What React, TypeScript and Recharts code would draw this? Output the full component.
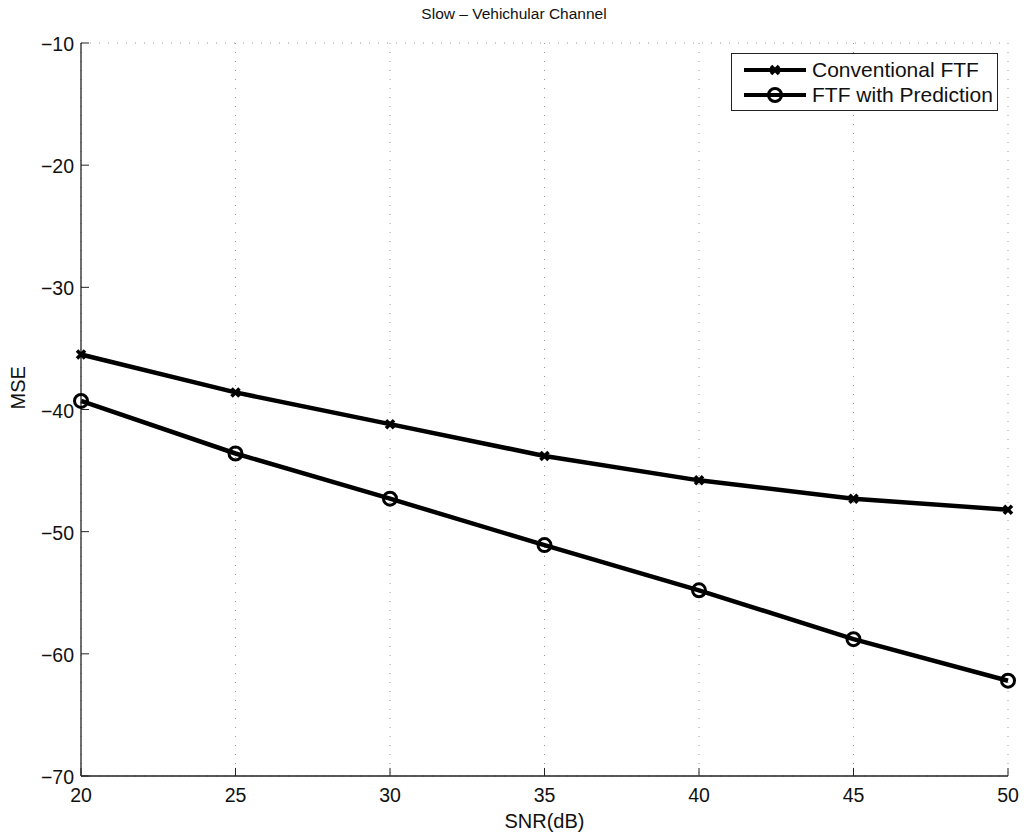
import React from "react";
import {
  CartesianGrid,
  Line,
  LineChart,
  XAxis,
  YAxis
} from "recharts";

const snr = [20, 25, 30, 35, 40, 45, 50];
const conventional = [-35.5, -38.6, -41.2, -43.8, -45.8, -47.3, -48.2];
const withPrediction = [-39.3, -43.6, -47.3, -51.1, -54.8, -58.8, -62.2];
const xTicks = [20, 25, 30, 35, 40, 45, 50];
const yTicks = [-70, -60, -50, -40, -30, -20, -10];

const data = snr.map((s, i) => ({ snr: s, conventional: conventional[i], prediction: withPrediction[i] }));

const FONT = "'Liberation Sans', Arial, sans-serif";
const W = 1026;
const H = 833;
const M = { top: 43, right: 18, bottom: 0, left: 0 };
const TICK_LEN = 8;
const TICK_FONT = 19.5;

const fmt = (v: number) => String(v).replace("-", "\u2212");

function BottomTick(props: any) {
  const { x, y, payload } = props;
  const axisY = y - 6;
  return (
    <g>
      <line x1={x} x2={x} y1={axisY} y2={axisY - TICK_LEN} stroke="#222" />
      <text x={x} y={axisY + 26} textAnchor="middle" fontSize={TICK_FONT} fontFamily={FONT} fill="#111">
        {payload.value}
      </text>
    </g>
  );
}

function LeftTick(props: any) {
  const { x, y, payload } = props;
  const axisX = x + 7;
  return (
    <g>
      <line x1={axisX} x2={axisX + TICK_LEN} y1={y} y2={y} stroke="#222" />
      <text x={x} y={y + 8} textAnchor="end" fontSize={TICK_FONT} fontFamily={FONT} fill="#111">
        {fmt(payload.value)}
      </text>
    </g>
  );
}

function TopTick(props: any) {
  const { x, y } = props;
  return <line x1={x} x2={x} y1={y} y2={y + TICK_LEN} stroke="#222" />;
}

function RightTick(props: any) {
  const { x, y } = props;
  return <line x1={x} x2={x - TICK_LEN} y1={y} y2={y} stroke="#222" />;
}

function CrossDot(props: any) {
  const { cx, cy } = props;
  if (cx == null || cy == null) return null;
  const r = 4;
  return (
    <g stroke="#000" strokeWidth={3.5}>
      <line x1={cx - r} y1={cy - r} x2={cx + r} y2={cy + r} />
      <line x1={cx - r} y1={cy + r} x2={cx + r} y2={cy - r} />
    </g>
  );
}

function CircleDot(props: any) {
  const { cx, cy } = props;
  if (cx == null || cy == null) return null;
  return <circle cx={cx} cy={cy} r={6.5} fill="none" stroke="#000" strokeWidth={3} />;
}

const legendItems = [
  { label: "Conventional FTF", Dot: CrossDot },
  { label: "FTF with Prediction", Dot: CircleDot }
];

function LegendBox() {
  return (
    <div
      style={{
        position: "absolute",
        left: 731,
        top: 53,
        border: "1px solid #222",
        background: "#fff",
        padding: "3px 4px 3px 10px",
        fontFamily: FONT,
        fontSize: 21,
        color: "#111",
        boxSizing: "border-box",
        width: 267,
        height: 58,
        whiteSpace: "nowrap"
      }}
    >
      {legendItems.map(({ label, Dot }) => (
        <div key={label} style={{ display: "flex", alignItems: "center", height: 25 }}>
          <svg width={64} height={20} style={{ marginRight: 6, flex: "none" }}>
            <line x1={2} x2={64} y1={10} y2={10} stroke="#000" strokeWidth={4} />
            <Dot cx={33} cy={10} />
          </svg>
          <span>{label}</span>
        </div>
      ))}
    </div>
  );
}

export default function App() {
  return (
    <div style={{ position: "absolute", left: 0, top: 0, width: W, height: H, background: "#fff" }}>
      <LineChart width={W} height={H} data={data} margin={M}>
        <text x={514} y={19} textAnchor="middle" fontSize={15.5} fontFamily={FONT} fill="#111">
          Slow – Vehichular Channel
        </text>
        <CartesianGrid stroke="#999" strokeDasharray="1 8" />
        <XAxis
          xAxisId="bottom"
          dataKey="snr"
          type="number"
          domain={[20, 50]}
          ticks={xTicks}
          height={57}
          tickSize={0}
          tickMargin={6}
          tickLine={false}
          axisLine={{ stroke: "#222", strokeWidth: 1.3 }}
          tick={<BottomTick />}
          label={{ value: "SNR(dB)", position: "insideBottom", offset: 5, fontSize: 20, fontFamily: FONT, fill: "#111" }}
        />
        <XAxis
          xAxisId="top"
          orientation="top"
          dataKey="snr"
          type="number"
          domain={[20, 50]}
          ticks={xTicks}
          height={0}
          tickSize={0}
          tickLine={false}
          axisLine={{ stroke: "#222", strokeWidth: 1.3 }}
          tick={<TopTick />}
        />
        <YAxis
          yAxisId="left"
          type="number"
          domain={[-70, -10]}
          ticks={yTicks}
          width={81}
          tickSize={0}
          tickMargin={7}
          tickLine={false}
          axisLine={{ stroke: "#222", strokeWidth: 1.3 }}
          tick={<LeftTick />}
          label={{ value: "MSE", angle: -90, position: "insideLeft", offset: 18, fontSize: 20, fontFamily: FONT, fill: "#111" }}
        />
        <YAxis
          yAxisId="right"
          orientation="right"
          type="number"
          domain={[-70, -10]}
          ticks={yTicks}
          width={0}
          tickSize={0}
          tickLine={false}
          axisLine={{ stroke: "#222", strokeWidth: 1.3 }}
          tick={<RightTick />}
        />
        <Line
          xAxisId="bottom"
          yAxisId="left"
          dataKey="conventional"
          stroke="#000"
          strokeWidth={4.5}
          dot={<CrossDot />}
          activeDot={false}
          isAnimationActive={false}
        />
        <Line
          xAxisId="bottom"
          yAxisId="left"
          dataKey="prediction"
          stroke="#000"
          strokeWidth={4.5}
          dot={<CircleDot />}
          activeDot={false}
          isAnimationActive={false}
        />
      </LineChart>
      <LegendBox />
    </div>
  );
}
